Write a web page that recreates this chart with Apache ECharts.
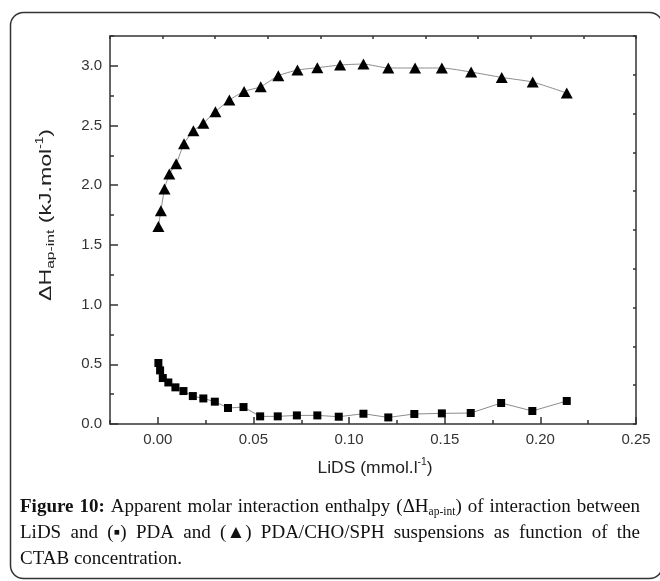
<!DOCTYPE html>
<html><head><meta charset="utf-8">
<script src="https://cdn.jsdelivr.net/npm/echarts@6/dist/echarts.min.js"></script>
<style>html,body{margin:0;padding:0;background:#fff}#c{width:660px;height:581px}</style>
</head><body><div id="c"></div>
<script>
// ---- data ----
const triX = [0.0003, 0.0016, 0.0035, 0.0060, 0.0096, 0.0137, 0.0186, 0.0238, 0.0301, 0.0374, 0.0451, 0.0538, 0.0630, 0.0730, 0.0834, 0.0953, 0.1075, 0.1205, 0.1345, 0.1485, 0.1638, 0.1798, 0.1960, 0.2138];
const triY = [1.655, 1.786, 1.968, 2.094, 2.180, 2.348, 2.456, 2.520, 2.616, 2.713, 2.786, 2.825, 2.917, 2.965, 2.984, 3.007, 3.015, 2.982, 2.982, 2.982, 2.948, 2.903, 2.864, 2.772];
const sqX = [0.0003, 0.0012, 0.0026, 0.0055, 0.0092, 0.0134, 0.0183, 0.0238, 0.0298, 0.0367, 0.0448, 0.0535, 0.0627, 0.0727, 0.0834, 0.0946, 0.1075, 0.1205, 0.1341, 0.1485, 0.1636, 0.1795, 0.1958, 0.2138];
const sqY = [0.511, 0.449, 0.385, 0.348, 0.307, 0.276, 0.234, 0.214, 0.187, 0.134, 0.142, 0.064, 0.064, 0.072, 0.072, 0.061, 0.086, 0.055, 0.084, 0.089, 0.092, 0.176, 0.109, 0.193];
const xTickValues = [0, 0.05, 0.10, 0.15, 0.20, 0.25];
const yTickValues = [0, 0.5, 1.0, 1.5, 2.0, 2.5, 3.0];
const xTitle = [['LiDS (mmol.l', 'm'], ['-1', 'p'], [')', 'm']];
const yTitle = [['ΔH', 'm'], ['ap-int', 's'], [' (kJ.mol', 'm'], ['-1', 'p'], [')', 'm']];
const captionLines = [
  [[['Figure','b']],[['10:','b']],[['Apparent','n']],[['molar','n']],[['interaction','n']],[['enthalpy','n']],[['(ΔH','n'],['ap-int','s'],[')','n']],[['of','n']],[['interaction','n']],[['between','n']]],
  [[['LiDS','n']],[['and','n']],[['(▪)','n']],[['PDA','n']],[['and','n']],[['(▲)','n']],[['PDA/CHO/SPH','n']],[['suspensions','n']],[['as','n']],[['function','n']],[['of','n']],[['the','n']]],
  [[['CTAB','n']],[['concentration.','n']]]
];

// ---- layout ----
const AX = '#333';
const SANS = '"Liberation Sans", Arial, sans-serif';
const SERIF = '"Liberation Serif", "DejaVu Serif", serif';
const fonts = { n: '19px ' + SERIF, b: 'bold 19px ' + SERIF, s: '11.5px ' + SERIF };
const segDy = { n: 0, b: 0, s: 5 };
const mctx = document.createElement('canvas').getContext('2d');
function mw(t, f) { mctx.font = f; return mctx.measureText(t).width; }

const graphics = [];
graphics.push({ type: 'rect', shape: { x: 10.5, y: 12.5, width: 652, height: 566, r: 13 },
  style: { fill: 'none', stroke: '#333', lineWidth: 1.5 }, silent: true });

const capLeft = 20, capRight = 640, capY = [507, 533, 559];
captionLines.forEach((line, li) => {
  const widths = line.map(word => word.reduce((s, seg) => s + mw(seg[0], fonts[seg[1]]), 0));
  const total = widths.reduce((a, b) => a + b, 0);
  const justify = li < captionLines.length - 1;
  const gap = justify ? (capRight - capLeft - total) / (line.length - 1) : mw(' ', fonts.n);
  let x = capLeft;
  line.forEach((word, wi) => {
    let sx = x;
    word.forEach(seg => {
      graphics.push({ type: 'text', x: sx, y: capY[li] + segDy[seg[1]], silent: true,
        style: { text: seg[0], font: fonts[seg[1]], fill: '#111', textAlign: 'left', textVerticalAlign: 'middle', align: 'left', verticalAlign: 'middle' } });
      sx += mw(seg[0], fonts[seg[1]]);
    });
    x += widths[wi] + gap;
  });
});

// axis titles: laid out in a group, stretched to the reference footprint
const tFonts = { m: 17, s: 11.5, p: 10 };
function titleGroup(segs, cx, cy, targetLen, rotated) {
  const children = [];
  let total = 0;
  const ws = segs.map(s => { const w = mw(s[0], tFonts[s[1]] + 'px ' + SANS); total += w; return w; });
  let x = -total / 2;
  segs.forEach((s, i) => {
    const dy = s[1] === 's' ? 5 : (s[1] === 'p' ? -6 : 0);
    children.push({ type: 'text', x: x, y: dy, silent: true,
      style: { text: s[0], font: tFonts[s[1]] + 'px ' + SANS, fill: '#222', textAlign: 'left', textVerticalAlign: 'middle', align: 'left', verticalAlign: 'middle' } });
    x += ws[i];
  });
  const sc = targetLen / total;
  return { type: 'group', x: cx, y: cy, rotation: rotated ? Math.PI / 2 : 0, scaleX: sc, scaleY: 1, children: children };
}
graphics.push(titleGroup(xTitle, 375, 468, 115, false));
graphics.push(titleGroup(yTitle, 46, 215, 172, true));

const lineAx = { show: true, onZero: false, lineStyle: { color: AX, width: 1.5 } };
const noLine = { show: false, onZero: false };
const chart = echarts.init(document.getElementById('c'), null, { renderer: 'canvas' });
chart.setOption({
  backgroundColor: '#fff',
  animation: false,
  grid: { left: 110, right: 24, top: 36, bottom: 157, containLabel: false },
  xAxis: [
    { type: 'value', position: 'bottom', min: -0.025, max: 0.25, axisLine: lineAx, splitLine: { show: false },
      axisTick: { inside: true, length: 7, customValues: xTickValues, lineStyle: { color: AX, width: 1.5 } },
      axisLabel: { customValues: xTickValues, formatter: v => v.toFixed(2), color: '#333', fontSize: 15, fontFamily: SANS, margin: 8 } },
    { type: 'value', position: 'bottom', min: -0.025, max: 0.25, interval: 0.025, axisLine: noLine, splitLine: { show: false },
      axisTick: { inside: true, length: 4, lineStyle: { color: AX, width: 1.5 } }, axisLabel: { show: false } },
    { type: 'value', position: 'top', min: 0, max: 10, interval: 1, axisLine: lineAx, splitLine: { show: false },
      axisTick: { inside: true, length: 3, lineStyle: { color: AX, width: 1.5 } }, axisLabel: { show: false } }
  ],
  yAxis: [
    { type: 'value', position: 'left', min: 0, max: 3.25, axisLine: lineAx, splitLine: { show: false },
      axisTick: { inside: true, length: 8, customValues: yTickValues, lineStyle: { color: AX, width: 1.5 } },
      axisLabel: { customValues: yTickValues, formatter: v => v.toFixed(1), color: '#333', fontSize: 15, fontFamily: SANS, margin: 8 } },
    { type: 'value', position: 'left', min: 0, max: 3.25, interval: 0.25, axisLine: noLine, splitLine: { show: false },
      axisTick: { inside: true, length: 4, lineStyle: { color: AX, width: 1.5 } }, axisLabel: { show: false } },
    { type: 'value', position: 'right', min: 0, max: 10, interval: 1, axisLine: lineAx, splitLine: { show: false },
      axisTick: { inside: true, length: 3, lineStyle: { color: AX, width: 1.5 } }, axisLabel: { show: false } }
  ],
  series: [
    { type: 'line', xAxisIndex: 0, yAxisIndex: 0, data: triX.map((x, i) => [x, triY[i]]), smooth: 0.2,
      symbol: 'triangle', symbolSize: [12, 11], lineStyle: { color: '#8c8c8c', width: 1 }, itemStyle: { color: '#000' } },
    { type: 'line', xAxisIndex: 0, yAxisIndex: 0, data: sqX.map((x, i) => [x, sqY[i]]),
      symbol: 'rect', symbolSize: 8, lineStyle: { color: '#8c8c8c', width: 1 }, itemStyle: { color: '#000' } }
  ],
  graphic: graphics
});
</script></body></html>
